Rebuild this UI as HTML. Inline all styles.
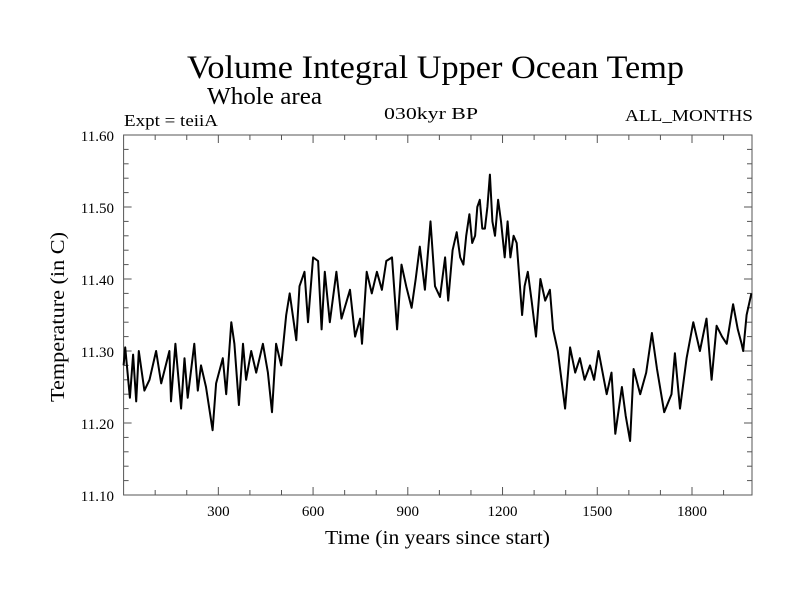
<!DOCTYPE html>
<html><head><meta charset="utf-8"><style>
html,body{margin:0;padding:0;background:#fff;}
svg text{font-family:"Liberation Serif",serif;fill:#000;}
</style></head><body>
<svg id="chart" width="800" height="600" xmlns="http://www.w3.org/2000/svg">
<text x="187" y="78" font-size="33" textLength="497" lengthAdjust="spacingAndGlyphs">Volume Integral Upper Ocean Temp</text>
<text x="207" y="104" font-size="24" textLength="115" lengthAdjust="spacingAndGlyphs">Whole area</text>
<text x="124" y="126" font-size="17" textLength="94" lengthAdjust="spacingAndGlyphs">Expt = teiiA</text>
<text x="384" y="119" font-size="17" textLength="94" lengthAdjust="spacingAndGlyphs">030kyr BP</text>
<text x="625" y="121" font-size="17" textLength="128" lengthAdjust="spacingAndGlyphs">ALL_MONTHS</text>
<text x="325" y="544" font-size="20" textLength="225" lengthAdjust="spacingAndGlyphs">Time (in years since start)</text>
<text transform="translate(64,402) rotate(-90)" font-size="20" textLength="170" lengthAdjust="spacingAndGlyphs">Temperature (in C)</text>
<g id="axes"></g>
<g id="series"></g>
</svg>
<script>
const years = [0,5,20,30,40,48,66,82,103,119,145,150,164,182,193,203,224,235,245,261,282,293,314,325,341,351,365,378,388,404,420,441,457,470,483,499,515,526,547,557,573,584,600,616,627,637,653,674,690,717,733,749,755,770,786,802,818,832,850,866,880,895,912,925,938,954,972,986,1002,1018,1028,1042,1055,1066,1076,1085,1095,1104,1113,1120,1128,1136,1144,1152,1160,1168,1176,1186,1195,1207,1216,1225,1235,1245,1262,1270,1280,1292,1306,1320,1335,1350,1360,1375,1398,1414,1430,1445,1460,1477,1490,1504,1517,1530,1545,1557,1578,1590,1604,1615,1636,1655,1673,1689,1712,1735,1746,1762,1783,1804,1825,1846,1862,1878,1895,1910,1930,1945,1957,1962,1973,1988];
const temps = [11.28,11.305,11.235,11.295,11.23,11.30,11.245,11.26,11.30,11.255,11.30,11.23,11.31,11.22,11.29,11.235,11.31,11.245,11.28,11.25,11.19,11.255,11.29,11.24,11.34,11.31,11.225,11.31,11.26,11.30,11.27,11.31,11.27,11.215,11.31,11.28,11.35,11.38,11.315,11.39,11.41,11.34,11.43,11.425,11.33,11.41,11.34,11.41,11.345,11.385,11.32,11.345,11.31,11.41,11.38,11.41,11.385,11.425,11.43,11.33,11.42,11.39,11.36,11.40,11.445,11.385,11.48,11.39,11.375,11.43,11.37,11.44,11.465,11.43,11.42,11.46,11.49,11.45,11.46,11.50,11.51,11.47,11.47,11.50,11.545,11.48,11.46,11.51,11.48,11.43,11.48,11.43,11.46,11.45,11.35,11.39,11.41,11.37,11.32,11.40,11.37,11.385,11.33,11.30,11.22,11.305,11.27,11.29,11.26,11.28,11.26,11.30,11.27,11.24,11.27,11.185,11.25,11.21,11.175,11.275,11.24,11.27,11.325,11.275,11.215,11.24,11.297,11.22,11.29,11.34,11.30,11.345,11.26,11.335,11.32,11.31,11.365,11.33,11.31,11.30,11.35,11.38];
const xTicks = [300,600,900,1200,1500,1800];
const yTicks = [11.10,11.20,11.30,11.40,11.50,11.60];
const x0=123.6,x1=752,y0=135,y1=495,xmin=0,xmax=1990,ymin=11.10,ymax=11.60;
function xs(v){return x0+(v-xmin)/(xmax-xmin)*(x1-x0);}
function ys(v){return y1-(v-ymin)/(ymax-ymin)*(y1-y0);}
const NS="http://www.w3.org/2000/svg";
const axes=document.getElementById('axes');
function ln(xa,ya,xb,yb,name){const l=document.createElementNS(NS,'line');l.setAttribute('x1',xa);l.setAttribute('y1',ya);l.setAttribute('x2',xb);l.setAttribute('y2',yb);l.setAttribute('stroke','#555');l.setAttribute('stroke-width','1');


axes.appendChild(l);}
const frame=document.createElementNS(NS,'rect');
frame.setAttribute('x',x0);frame.setAttribute('y',y0);frame.setAttribute('width',x1-x0);frame.setAttribute('height',y1-y0);frame.setAttribute('fill','none');frame.setAttribute('stroke','#555');


axes.appendChild(frame);
for(let t=100;t<xmax;t+=100){const X=xs(t);const L=(t%300===0)?8:5;ln(X,y1,X,y1-L,'x-tick');ln(X,y0,X,y0+L,'x-tick-top');}
for(let i=1;i<25;i++){const v=ymin+i*0.02;const Y=ys(v);const L=(i%5===0)?8:5;ln(x0,Y,x0+L,Y,'y-tick');ln(x1,Y,x1-L,Y,'y-tick-right');}
xTicks.forEach(v=>{const t=document.createElementNS(NS,'text');t.setAttribute('x',xs(v));t.setAttribute('y',516);t.setAttribute('text-anchor','middle');t.setAttribute('font-size','15');t.textContent=String(v);


axes.appendChild(t);});
yTicks.forEach(v=>{const t=document.createElementNS(NS,'text');t.setAttribute('x',114);t.setAttribute('y',ys(v)+6);t.setAttribute('text-anchor','end');t.setAttribute('font-size','15');t.textContent=v.toFixed(2);


axes.appendChild(t);});
const p=document.createElementNS(NS,'polyline');
p.setAttribute('points',years.map((y,i)=>xs(y).toFixed(1)+','+ys(temps[i]).toFixed(1)).join(' '));
p.setAttribute('fill','none');p.setAttribute('stroke','#000');p.setAttribute('stroke-width','2');p.setAttribute('stroke-linejoin','round');


document.getElementById('series').appendChild(p);
</script>
</body></html>
